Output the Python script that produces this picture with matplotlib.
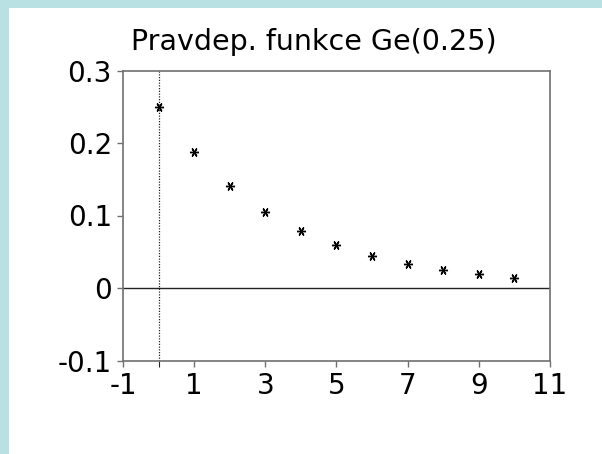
import matplotlib
matplotlib.use("Agg")
import matplotlib.pyplot as plt
from matplotlib.patches import Rectangle

# Data
k_values = [0, 1, 2, 3, 4, 5, 6, 7, 8, 9, 10]
probabilities = [0.25, 0.1875, 0.1406, 0.1055, 0.0791, 0.0593, 0.0445, 0.0334, 0.0250, 0.0188, 0.0141]
x_ticks = [-1, 1, 3, 5, 7, 9, 11]
x_tick_labels = ["-1", "1", "3", "5", "7", "9", "11"]
y_ticks = [-0.1, 0, 0.1, 0.2, 0.3]
y_tick_labels = ["-0.1", "0", "0.1", "0.2", "0.3"]
title = "Pravdep. funkce Ge(0.25)"

plt.rcParams['font.family'] = ['DejaVu Sans']

W, H = 602, 454
fig = plt.figure(figsize=(W / 100, H / 100), dpi=100)
fig.patch.set_facecolor("white")

band = "#b9e0e2"
fig.patches.append(Rectangle((0, 1 - 8 / H), 1, 8 / H, transform=fig.transFigure,
                             facecolor=band, edgecolor="none", zorder=0))
fig.patches.append(Rectangle((0, 0), 9 / W, 1, transform=fig.transFigure,
                             facecolor=band, edgecolor="none", zorder=0))

left, right, top, bottom = 123 / W, 550 / W, 1 - 70.5 / H, 1 - 360.5 / H
ax = fig.add_axes([left, bottom, right - left, top - bottom])

ax.set_xlim(-1, 11)
ax.set_ylim(-0.1, 0.3)

ax.axhline(0, color="#222222", lw=1.0, zorder=1)
ax.axvline(0, color="#222222", lw=0.9, ls=(0, (1, 1.2)), zorder=1)

ax.plot(k_values, probabilities, ls="none", marker=(6, 2, 90), ms=6.5, mew=1.0,
        color="black", zorder=3)

ax.set_xticks(x_ticks)
ax.set_xticklabels(x_tick_labels)
ax.set_xticks([0], minor=True)
ax.set_yticks(y_ticks)
ax.set_yticklabels(y_tick_labels)

for s in ax.spines.values():
    s.set_color("#707070")
    s.set_linewidth(1.2)

ax.tick_params(axis="both", which="both", direction="out", length=4, width=1.0,
               color="#707070", labelcolor="black")
ax.tick_params(axis="x", labelsize=20, pad=4)
ax.tick_params(axis="y", labelsize=20, pad=4)
ax.tick_params(axis="x", which="minor", color="#222222", length=4, width=0.8)

fig.text(313.5 / W, 1 - 49.5 / H, title, ha="center", va="baseline", fontsize=20.5,
         color="black")

fig.savefig("out.png", dpi=100, facecolor=fig.get_facecolor())
